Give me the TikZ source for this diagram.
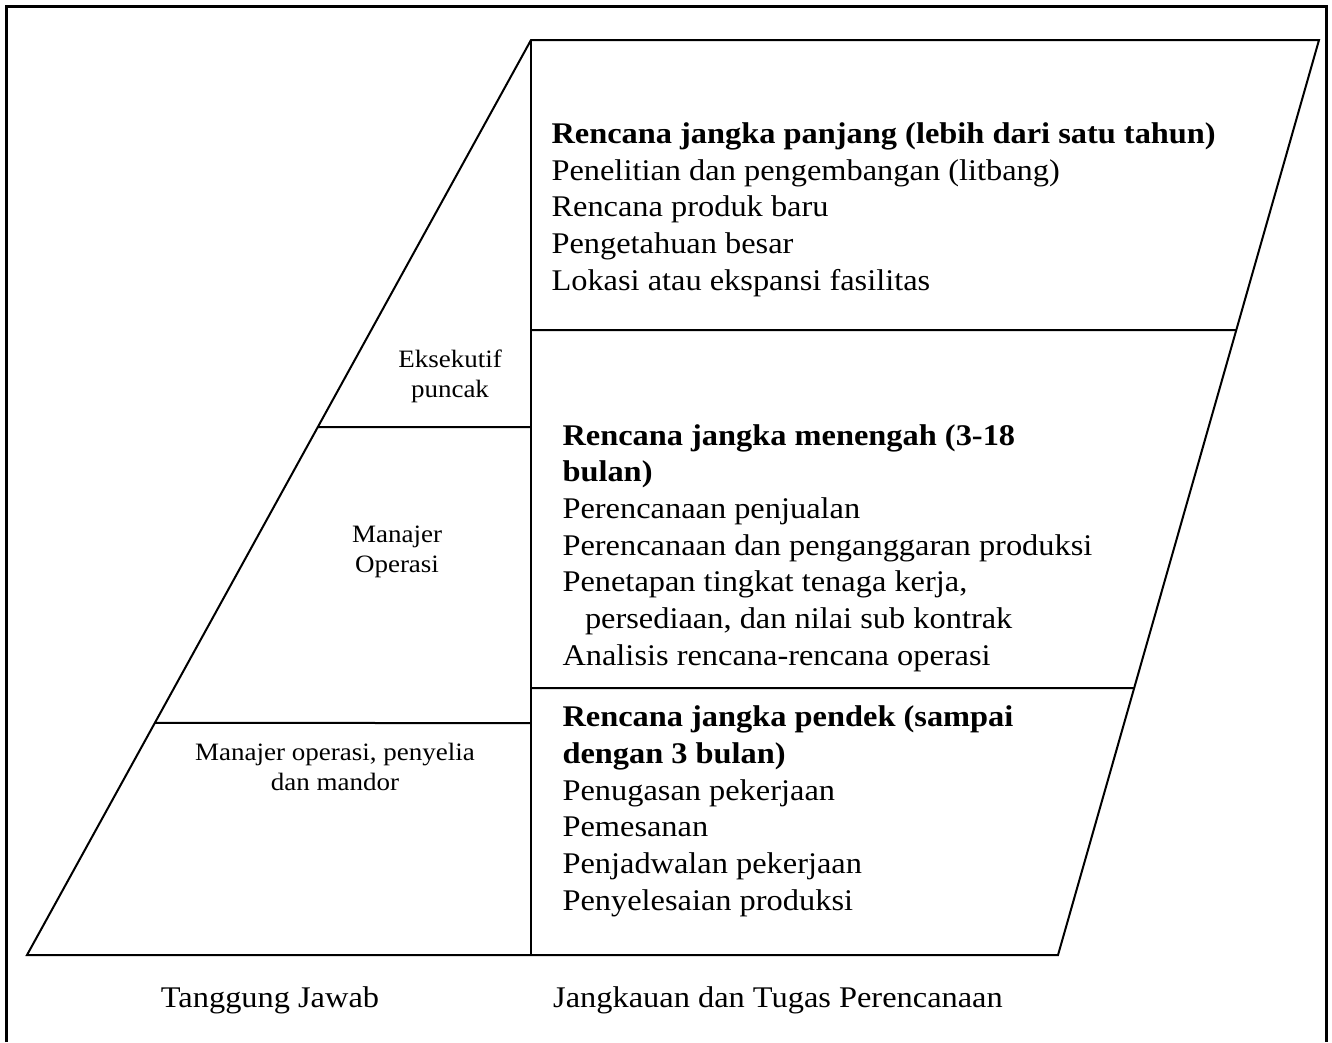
\documentclass[tikz,border=0pt]{standalone}
\usepackage{fontspec}
\setmainfont{Liberation Serif}[FakeStretch=1.08]
\usetikzlibrary{calc}

\begin{document}
\begin{tikzpicture}[x=0.4pt,y=-0.4pt,
  rim/.style={line width=1.2pt},
  edge/.style={line width=0.8pt},
  plan/.style={anchor=base west,align=left,inner sep=0pt,font=\fontsize{12}{14.65}\selectfont},
  role/.style={anchor=base,align=center,inner sep=0pt,font=\fontsize{10}{12}\selectfont},
  caption/.style={anchor=base,inner sep=0pt,font=\fontsize{12}{14.4}\selectfont}]
\useasboundingbox (0,0) rectangle (1332,1042);
% frame, open at the foot
\draw[rim] (6,1042) -- (6,6) -- (1326,6) -- (1326,1042);
% corners of the chart
\coordinate (apex) at (531,40);
\coordinate (topR) at (1319,40);
\coordinate (footL) at (27,955);
\coordinate (footR) at (1058,955);
\coordinate (footM) at (531,955);
\draw[edge] (footL) -- (apex) -- (topR) -- (footR) -- cycle;
\draw[edge] (apex) -- (footM);
% row borders
\coordinate (longEnd) at (531,330);
\coordinate (midEnd) at (531,688);
\coordinate (execEnd) at (531,427);
\coordinate (opsEnd) at (531,723);
\draw[edge] (longEnd) -- ($(footR)!0.683!(topR)$);
\draw[edge] (midEnd) -- ($(footR)!0.2918!(topR)$);
\draw[edge] ($(footL)!0.577!(apex)$) -- (execEnd);
\draw[edge] ($(footL)!0.2536!(apex)$) -- (opsEnd);
% planning ranges (anchored at the last baseline)
\node[plan] (long) at (551,290) {\textbf{Rencana jangka panjang (lebih dari satu tahun)}\\
  Penelitian dan pengembangan (litbang)\\
  Rencana produk baru\\
  Pengetahuan besar\\
  Lokasi atau ekspansi fasilitas};
\node[plan] (mid) at (562,665) {\textbf{Rencana jangka menengah (3-18}\\
  \textbf{bulan)}\\
  Perencanaan penjualan\\
  Perencanaan dan penganggaran produksi\\
  Penetapan tingkat tenaga kerja,\\
  \hspace*{9pt}persediaan, dan nilai sub kontrak\\
  Analisis rencana-rencana operasi};
\node[plan] (short) at (562,910) {\textbf{Rencana jangka pendek (sampai}\\
  \textbf{dengan 3 bulan)}\\
  Penugasan pekerjaan\\
  Pemesanan\\
  Penjadwalan pekerjaan\\
  Penyelesaian produksi};
% who is in charge
\node[role] (exec) at (450,397) {Eksekutif\\puncak};
\node[role] (ops) at (397,572) {Manajer\\Operasi};
\node[role] (floor) at (335,790) {Manajer operasi, penyelia\\dan mandor};
% captions
\node[caption] (duty) at (270,1007) {Tanggung Jawab};
\node[caption] (scope) at (778,1007) {Jangkauan dan Tugas Perencanaan};
\end{tikzpicture}
\end{document}
